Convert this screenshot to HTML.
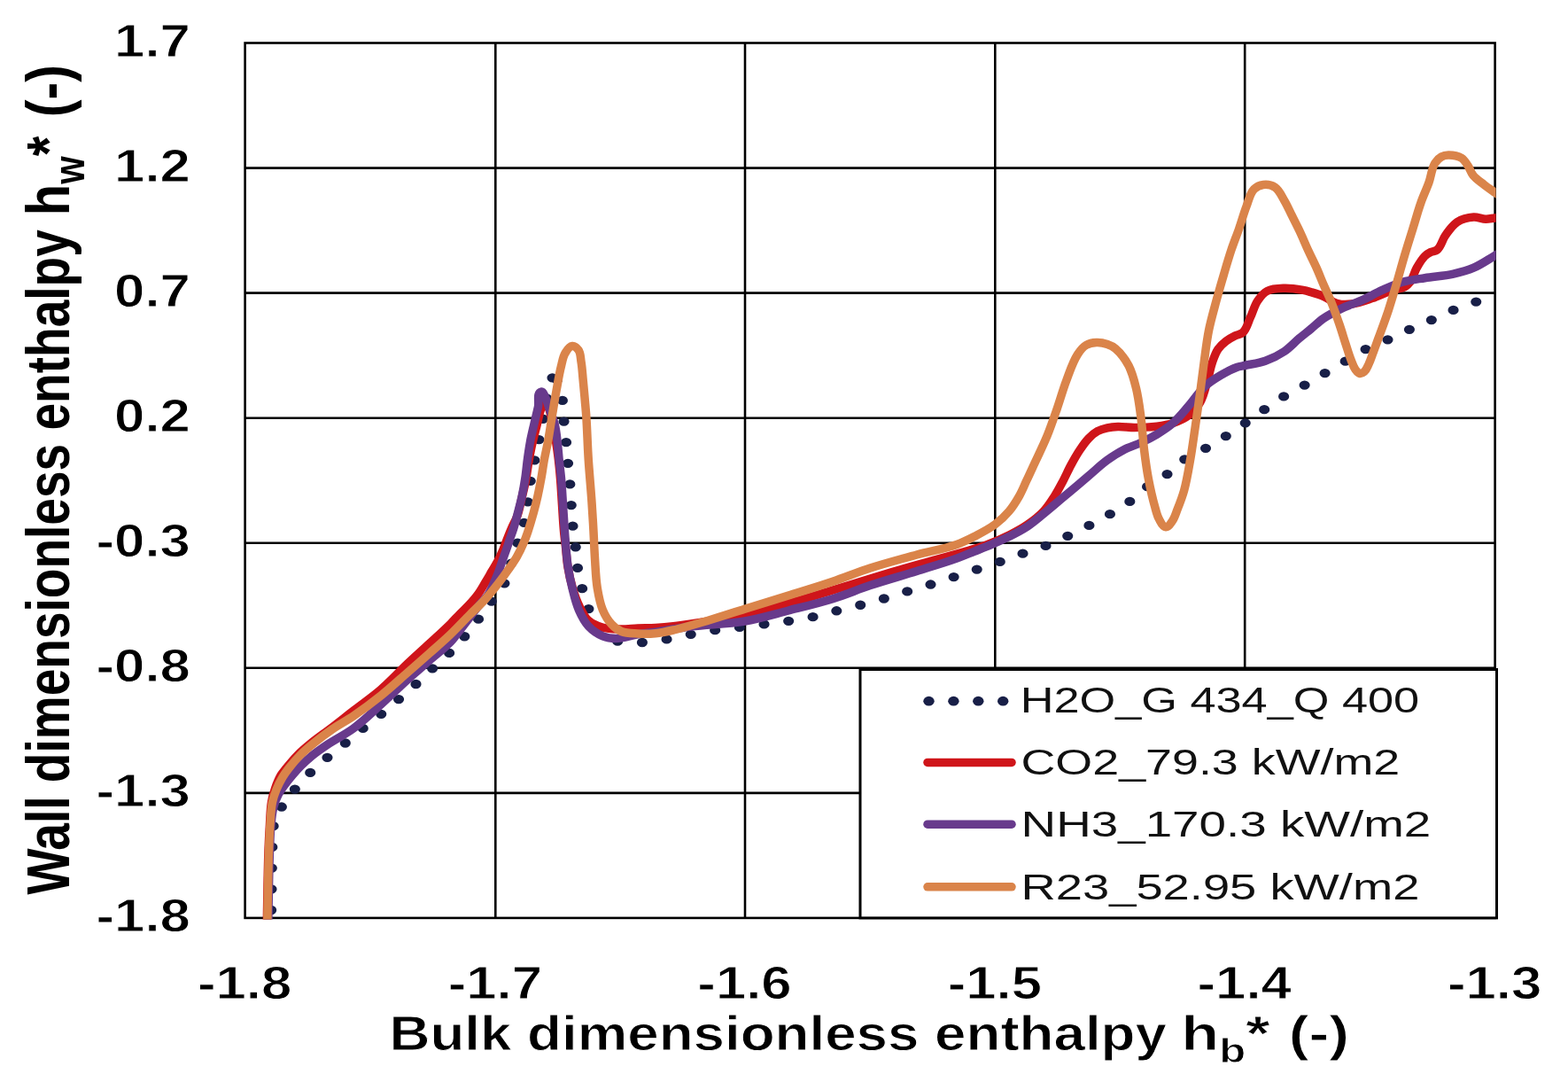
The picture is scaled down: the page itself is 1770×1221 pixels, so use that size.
<!DOCTYPE html><html><head><meta charset="utf-8"><style>html,body{margin:0;padding:0;background:#fff;}svg{display:block;}.t{font-family:"Liberation Sans","DejaVu Sans",sans-serif;font-weight:bold;fill:#000;stroke:#fff;stroke-width:0.9px;}.l{font-family:"Liberation Sans","DejaVu Sans",sans-serif;fill:#111;}</style></head><body>
<svg width="1770" height="1221" viewBox="0 0 1770 1221">
<rect width="1770" height="1221" fill="#fff"/>
<path d="M559.3,48.5V1035.9M841.0,48.5V1035.9M1123.3,48.5V1035.9M1405.2,48.5V1035.9M276.6,189.6H1687.6M276.6,330.6H1687.6M276.6,471.7H1687.6M276.6,612.7H1687.6M276.6,753.8H1687.6M276.6,894.9H1687.6" stroke="#000" stroke-width="2.60" fill="none"/>
<rect x="276.6" y="48.5" width="1411.0" height="987.4" fill="none" stroke="#000" stroke-width="2.60"/>
<defs><clipPath id="pc"><rect x="274.6" y="46.5" width="1414.0" height="991.1"/></clipPath></defs>
<g fill="none" stroke-linecap="round" stroke-linejoin="round" clip-path="url(#pc)">
<g transform="scale(1.1800,1)" stroke="#181f47" stroke-width="10.3" stroke-dasharray="0 23.7"><path d="M259.32,1036.00 C259.46,1025.00 259.60,1014.00 259.75,1003.00 C259.89,992.00 259.95,981.00 260.17,970.00 C260.34,961.67 260.38,953.32 260.85,945.00 C261.22,938.32 261.22,931.56 262.54,925.00 C263.30,921.22 264.13,917.31 266.10,914.00 C267.30,911.99 269.51,910.76 270.93,908.90 C275.48,902.95 278.33,895.84 282.63,889.70 C287.06,883.37 292.03,877.42 297.12,871.60 C302.27,865.71 307.77,860.13 313.31,854.60 C319.17,848.75 325.39,843.26 331.36,837.50 C336.83,832.22 342.12,826.75 347.63,821.50 C353.28,816.11 359.20,811.01 364.83,805.60 C370.68,799.98 376.35,794.18 382.03,788.40 C387.62,782.72 393.23,777.05 398.64,771.20 C404.10,765.31 409.26,759.15 414.66,753.20 C419.91,747.41 425.55,741.97 430.59,736.00 C435.73,729.93 440.51,723.55 445.17,717.10 C449.78,710.71 454.10,704.11 458.39,697.50 C462.43,691.27 466.30,684.94 470.17,678.60 C474.64,671.27 480.02,664.40 483.39,656.50 C486.58,649.03 487.74,640.85 489.83,633.00 C491.98,624.95 493.98,616.86 496.10,608.80 C498.00,601.59 500.37,594.50 501.86,587.20 C503.46,579.41 504.26,571.49 505.25,563.60 C506.27,555.52 506.74,547.37 507.88,539.30 C509.00,531.39 510.63,523.56 512.03,515.70 C513.51,507.46 515.12,499.25 516.53,491.00 C517.89,483.01 519.11,475.01 520.34,467.00 C521.36,460.34 522.16,453.64 523.31,447.00 C524.17,441.98 524.46,436.76 526.27,432.00 C527.16,429.65 527.58,425.36 530.08,425.50" stroke-dashoffset="-9.0"/><path d="M530.08,425.50 C533.55,425.69 533.24,431.71 534.32,435.00 C536.18,440.67 537.33,446.58 538.14,452.50 C539.15,459.94 538.86,467.51 539.41,475.00 C539.98,482.84 540.89,490.66 541.53,498.50 C542.16,506.36 542.62,514.24 543.22,522.10 C543.83,530.04 544.64,537.96 545.17,545.90 C545.72,554.09 545.97,562.30 546.44,570.50 C546.88,578.17 547.20,585.85 547.88,593.50 C548.58,601.35 549.82,609.15 550.59,617.00 C551.40,625.19 551.53,633.45 552.63,641.60 C553.63,649.03 555.11,656.39 556.78,663.70 C558.57,671.54 560.22,679.47 563.05,687.00 C565.67,693.95 568.81,700.79 572.88,707.00 C576.23,712.12 579.57,717.73 584.75,721.00 C589.69,724.12 595.88,724.91 601.69,725.50 C607.33,726.07 613.02,725.11 618.64,724.50 C625.16,723.79 631.63,722.69 638.05,721.40 C645.80,719.84 653.38,717.51 661.10,715.80 C668.70,714.11 676.31,712.50 683.98,711.20 C691.71,709.89 699.53,709.12 707.29,708.00 C715.06,706.88 722.83,705.68 730.59,704.50 C738.39,703.31 746.21,702.26 753.98,700.90 C761.78,699.53 769.61,698.23 777.29,696.30 C784.91,694.39 792.30,691.63 799.83,689.40 C807.38,687.16 815.01,685.18 822.54,682.90 C830.18,680.59 837.79,678.17 845.34,675.60 C852.59,673.13 859.74,670.38 866.95,667.80 C874.37,665.15 881.84,662.63 889.24,659.90 C896.67,657.16 904.04,654.23 911.44,651.40 C918.84,648.57 926.25,645.76 933.64,642.90 C941.14,640.00 948.66,637.14 956.10,634.10 C963.29,631.17 970.36,627.94 977.54,625.00 C984.71,622.07 992.11,619.72 999.15,616.50 C1006.34,613.21 1013.24,609.31 1020.17,605.50 C1027.14,601.67 1034.05,597.73 1040.85,593.60 C1047.56,589.52 1054.21,585.35 1060.68,580.90 C1067.21,576.41 1073.86,572.02 1079.83,566.80 C1085.06,562.22 1089.10,556.39 1094.32,551.80 C1100.94,545.98 1108.88,541.81 1115.51,536.00 C1121.17,531.03 1125.42,524.55 1131.27,519.80 C1137.81,514.50 1145.63,510.98 1152.63,506.30 C1159.10,501.97 1165.45,497.46 1171.69,492.80 C1177.92,488.16 1183.97,483.29 1190.00,478.40 C1196.23,473.35 1202.26,468.06 1208.47,463.00 C1214.83,457.83 1221.06,452.48 1227.71,447.70 C1234.10,443.11 1241.00,439.28 1247.54,434.90 C1254.06,430.54 1260.41,425.94 1266.86,421.50 C1273.01,417.28 1279.22,413.16 1285.34,408.90 C1291.85,404.36 1297.96,399.22 1304.75,395.10 C1311.91,390.74 1319.73,387.56 1327.12,383.60 C1333.99,379.92 1340.66,375.87 1347.54,372.20 C1354.28,368.60 1361.19,365.33 1367.97,361.80 C1375.12,358.07 1382.05,353.90 1389.32,350.40 C1396.31,347.04 1403.56,344.27 1410.68,341.20 C1412.77,340.30 1414.86,339.40 1416.95,338.50" stroke-dashoffset="-4.6"/></g>
<path d="M301.30,1042.00 C301.53,1028.00 301.71,1014.00 302.00,1000.00 C302.28,986.67 302.50,973.33 303.00,960.00 C303.38,949.99 303.85,939.99 304.50,930.00 C305.04,921.66 305.08,913.24 306.50,905.00 C307.38,899.90 308.80,894.89 310.50,890.00 C312.29,884.85 314.26,879.71 317.00,875.00 C318.67,872.12 320.91,869.59 323.00,867.00 C327.15,861.85 331.33,856.69 336.00,852.00 C341.00,846.98 346.49,842.46 352.00,838.00 C358.47,832.75 365.38,828.06 372.00,823.00 C381.06,816.08 389.99,808.99 399.00,802.00 C409.32,793.99 420.12,786.55 430.00,778.00 C440.51,768.90 449.88,758.54 460.00,749.00 C468.24,741.23 476.70,733.71 485.00,726.00 C493.04,718.54 501.22,711.22 509.00,703.50 C512.43,700.10 515.62,696.46 519.00,693.00 C522.62,689.29 526.50,685.83 530.00,682.00 C533.51,678.16 536.96,674.23 540.00,670.00 C542.97,665.87 545.38,661.36 548.00,657.00 C550.38,653.03 552.67,649.00 555.00,645.00 C557.33,641.00 559.86,637.11 562.00,633.00 C564.20,628.77 566.14,624.40 568.00,620.00 C569.81,615.72 571.27,611.31 573.00,607.00 C574.61,602.98 576.26,598.97 578.00,595.00 C579.92,590.63 582.41,586.50 584.00,582.00 C586.28,575.52 587.41,568.69 589.00,562.00 C590.58,555.35 592.21,548.71 593.50,542.00 C594.90,534.71 595.69,527.31 597.00,520.00 C598.20,513.31 599.51,506.63 601.00,500.00 C602.51,493.30 604.33,486.67 606.00,480.00 C607.50,474.00 608.60,467.88 610.50,462.00 C611.60,458.58 610.93,452.37 614.50,452.00 C616.89,451.75 617.50,455.82 618.50,458.00 C620.82,463.03 621.74,468.61 623.00,474.00 C624.85,481.93 626.19,489.97 627.50,498.00 C628.59,504.64 629.50,511.32 630.30,518.00 C631.18,525.32 631.89,532.66 632.50,540.00 C633.33,549.99 633.82,560.00 634.50,570.00 C635.16,579.67 635.63,589.35 636.50,599.00 C637.04,605.01 637.84,611.00 638.50,617.00 C639.34,624.67 639.72,632.40 641.00,640.00 C642.36,648.09 644.14,656.14 646.50,664.00 C648.55,670.82 650.85,677.62 654.00,684.00 C656.78,689.64 659.35,695.77 664.00,700.00 C668.41,704.01 674.27,706.34 680.00,708.00 C686.44,709.86 693.30,709.83 700.00,710.00 C706.67,710.17 713.33,709.27 720.00,709.00 C726.66,708.73 733.34,708.78 740.00,708.40 C746.68,708.02 753.35,707.46 760.00,706.70 C773.38,705.18 786.70,703.09 800.00,701.00 C813.60,698.86 827.25,696.92 840.70,694.00 C857.31,690.39 873.64,685.61 890.00,681.00 C906.75,676.28 923.35,671.05 940.00,666.00 C954.15,661.71 968.24,657.26 982.40,653.00 C999.87,647.74 1017.36,642.52 1034.90,637.50 C1052.32,632.52 1069.90,628.06 1087.30,623.00 C1096.07,620.45 1104.93,618.16 1113.50,615.00 C1122.54,611.67 1131.40,607.82 1140.00,603.50 C1146.87,600.05 1153.69,596.39 1160.00,592.00 C1166.41,587.54 1172.65,582.69 1178.00,577.00 C1182.52,572.18 1186.12,566.55 1189.70,561.00 C1193.30,555.43 1196.38,549.55 1199.50,543.70 C1202.93,537.25 1205.80,530.51 1209.30,524.10 C1212.40,518.42 1215.58,512.76 1219.20,507.40 C1222.21,502.95 1225.25,498.45 1229.00,494.60 C1231.93,491.60 1235.13,488.74 1238.80,486.70 C1242.26,484.78 1246.14,483.67 1250.00,482.80 C1253.93,481.92 1257.98,481.61 1262.00,481.50 C1268.14,481.34 1274.26,482.50 1280.40,482.50 C1288.95,482.50 1297.52,482.17 1306.00,481.10 C1312.07,480.33 1318.21,479.48 1324.00,477.50 C1330.38,475.32 1336.76,472.61 1342.10,468.50 C1347.15,464.61 1351.53,459.64 1354.70,454.10 C1359.43,445.84 1360.97,436.12 1363.70,427.00 C1365.58,420.72 1366.62,414.18 1368.80,408.00 C1370.50,403.19 1372.11,398.21 1375.00,394.00 C1377.40,390.50 1380.66,387.61 1384.00,385.00 C1387.06,382.61 1390.53,380.75 1394.00,379.00 C1396.87,377.55 1400.55,377.49 1402.90,375.30 C1407.53,370.98 1408.70,364.03 1411.40,358.30 C1414.38,351.97 1415.94,344.87 1419.90,339.10 C1422.75,334.94 1426.12,330.71 1430.60,328.40 C1436.34,325.44 1443.25,325.40 1449.70,325.20 C1456.83,324.97 1463.97,326.15 1471.00,327.40 C1474.05,327.94 1477.03,328.83 1480.00,329.70 C1484.65,331.07 1489.33,332.42 1493.80,334.30 C1499.33,336.62 1504.00,341.00 1509.80,342.50 C1515.00,343.84 1520.57,343.65 1525.90,343.00 C1533.77,342.05 1541.29,339.15 1548.80,336.60 C1556.59,333.96 1563.90,330.02 1571.70,327.40 C1576.38,325.83 1581.67,325.89 1586.00,323.50 C1588.38,322.19 1590.40,320.19 1592.00,318.00 C1595.42,313.31 1596.43,307.24 1599.30,302.20 C1601.95,297.56 1604.61,292.77 1608.40,289.00 C1610.29,287.12 1612.62,285.70 1615.00,284.50 C1617.27,283.36 1620.24,283.62 1622.20,282.00 C1626.94,278.08 1627.82,271.00 1631.40,266.00 C1635.43,260.37 1639.27,254.12 1645.10,250.40 C1650.49,246.96 1657.12,245.40 1663.50,245.00 C1668.12,244.71 1672.58,247.10 1677.20,247.20 C1680.69,247.28 1684.13,246.33 1687.60,246.00 C1689.40,245.83 1691.20,245.73 1693.00,245.60" stroke="#cf151a" stroke-width="9.5"/>
<path d="M302.80,1042.00 C303.03,1028.00 303.21,1014.00 303.50,1000.00 C303.78,986.67 304.00,973.33 304.50,960.00 C304.88,949.99 305.01,939.96 306.00,930.00 C306.67,923.29 307.28,916.52 309.00,910.00 C310.18,905.51 311.87,901.12 314.00,897.00 C316.21,892.73 319.16,888.88 322.00,885.00 C324.52,881.55 327.23,878.25 330.00,875.00 C333.22,871.23 336.50,867.51 340.00,864.00 C343.83,860.16 347.79,856.43 352.00,853.00 C357.74,848.32 363.85,844.12 370.00,840.00 C379.45,833.67 389.85,828.76 399.00,822.00 C410.02,813.86 419.82,804.18 430.00,795.00 C440.16,785.84 449.86,776.19 460.00,767.00 C468.23,759.55 476.66,752.32 485.00,745.00 C492.99,737.99 501.68,731.71 509.00,724.00 C513.08,719.69 516.36,714.69 520.00,710.00 C523.36,705.68 526.67,701.33 530.00,697.00 C533.33,692.67 536.57,688.25 540.00,684.00 C543.56,679.58 547.88,675.74 551.00,671.00 C553.46,667.27 555.13,663.06 557.00,659.00 C558.97,654.73 560.81,650.39 562.50,646.00 C564.14,641.72 565.48,637.33 567.00,633.00 C568.64,628.33 570.38,623.68 572.00,619.00 C573.38,615.01 574.64,610.99 576.00,607.00 C577.14,603.66 578.44,600.37 579.50,597.00 C581.33,591.16 582.84,585.22 584.40,579.30 C586.12,572.76 587.89,566.22 589.30,559.60 C590.69,553.11 591.81,546.56 592.80,540.00 C593.90,532.69 594.49,525.32 595.50,518.00 C596.40,511.49 597.29,504.96 598.50,498.50 C599.72,491.96 601.32,485.49 602.80,479.00 C604.32,472.32 606.03,465.69 607.50,459.00 C608.75,453.35 605.37,443.35 611.00,442.00 C613.08,441.50 613.96,445.14 615.00,447.00 C617.41,451.33 618.35,456.33 620.00,461.00 C622.09,466.93 624.69,472.70 626.20,478.80 C627.80,485.25 628.38,491.91 629.20,498.50 C630.01,505.05 630.42,511.64 631.10,518.20 C631.85,525.47 632.85,532.72 633.50,540.00 C634.37,549.82 634.85,559.67 635.50,569.50 C636.15,579.30 636.71,589.10 637.40,598.90 C637.77,604.14 638.13,609.37 638.60,614.60 C639.33,622.78 639.88,630.98 641.10,639.10 C642.34,647.37 643.98,655.59 646.00,663.70 C648.07,672.01 649.94,680.47 653.40,688.30 C656.28,694.84 659.52,701.48 664.40,706.70 C668.83,711.44 674.41,715.31 680.40,717.80 C685.00,719.71 690.12,720.51 695.10,720.50 C703.55,720.48 711.66,717.13 720.00,715.80 C726.64,714.74 733.35,714.16 740.00,713.20 C746.68,712.23 753.33,711.03 760.00,710.00 C766.66,708.97 773.31,707.83 780.00,707.00 C800.18,704.49 820.66,704.41 840.70,701.00 C857.37,698.16 873.61,693.17 890.00,689.00 C906.71,684.74 923.53,680.81 940.00,675.70 C954.33,671.25 968.16,665.32 982.40,660.60 C999.78,654.84 1017.43,649.97 1034.90,644.50 C1049.96,639.79 1065.14,635.41 1080.00,630.10 C1086.65,627.72 1093.14,624.92 1099.70,622.30 C1106.24,619.69 1112.82,617.17 1119.30,614.40 C1125.93,611.57 1132.55,608.72 1139.00,605.50 C1145.70,602.16 1152.44,598.81 1158.70,594.70 C1165.61,590.17 1171.86,584.68 1178.30,579.50 C1182.16,576.40 1185.90,573.17 1189.70,570.00 C1196.24,564.54 1202.78,559.09 1209.30,553.60 C1215.88,548.05 1222.43,542.46 1229.00,536.90 C1235.99,530.99 1242.59,524.57 1250.00,519.20 C1256.25,514.67 1262.82,510.51 1269.70,507.00 C1275.57,504.00 1282.02,502.28 1288.00,499.50 C1294.14,496.65 1300.22,493.61 1306.00,490.10 C1312.26,486.30 1318.50,482.33 1324.00,477.50 C1330.72,471.60 1336.23,464.44 1342.10,457.70 C1348.27,450.61 1353.19,442.37 1360.10,436.00 C1365.49,431.04 1371.81,427.15 1378.10,423.40 C1383.86,419.97 1389.77,416.62 1396.10,414.40 C1398.96,413.40 1402.04,413.15 1405.00,412.50 C1412.81,410.80 1420.87,409.98 1428.40,407.30 C1435.89,404.63 1443.10,401.03 1449.70,396.60 C1455.98,392.39 1461.01,386.56 1466.80,381.70 C1471.14,378.06 1475.62,374.60 1480.00,371.00 C1484.63,367.20 1488.86,362.88 1493.80,359.50 C1500.28,355.07 1507.31,351.47 1514.40,348.10 C1521.83,344.57 1529.80,342.28 1537.30,338.90 C1545.12,335.38 1552.48,330.90 1560.30,327.40 C1567.80,324.04 1575.30,320.57 1583.20,318.30 C1591.41,315.95 1599.97,315.07 1608.40,313.70 C1619.10,311.96 1630.01,311.44 1640.60,309.10 C1648.38,307.38 1656.18,305.35 1663.50,302.20 C1672.00,298.54 1679.60,293.06 1687.60,288.40 C1689.41,287.35 1691.20,286.27 1693.00,285.20" stroke="#683a8c" stroke-width="9.5"/>
<path d="M301.80,1042.00 C302.03,1028.00 302.21,1014.00 302.50,1000.00 C302.78,986.67 303.00,973.33 303.50,960.00 C303.88,949.99 304.25,939.98 305.00,930.00 C305.63,921.65 305.79,913.20 307.50,905.00 C308.50,900.20 310.15,895.54 312.00,891.00 C313.97,886.17 316.33,881.48 319.00,877.00 C321.08,873.50 323.50,870.21 326.00,867.00 C330.07,861.78 334.33,856.69 339.00,852.00 C344.00,846.98 349.49,842.46 355.00,838.00 C361.47,832.75 368.13,827.71 375.00,823.00 C382.78,817.66 391.21,813.31 399.00,808.00 C409.63,800.75 419.96,793.05 430.00,785.00 C440.32,776.72 450.03,767.70 460.00,759.00 C468.36,751.70 476.71,744.38 485.00,737.00 C493.04,729.84 501.23,722.84 509.00,715.40 C516.22,708.49 522.97,701.10 530.00,694.00 C535.97,687.97 542.31,682.29 548.00,676.00 C553.23,670.22 558.03,664.07 562.80,657.90 C566.53,653.07 570.11,648.11 573.60,643.10 C576.97,638.27 580.47,633.51 583.40,628.40 C586.39,623.19 588.94,617.73 591.30,612.20 C593.15,607.85 594.70,603.38 596.20,598.90 C598.36,592.43 600.29,585.88 602.10,579.30 C603.89,572.77 605.52,566.20 607.00,559.60 C608.45,553.10 609.71,546.55 610.90,540.00 C612.23,532.69 613.15,525.31 614.50,518.00 C615.70,511.47 617.30,505.03 618.50,498.50 C620.30,488.70 621.67,478.83 623.30,469.00 C624.90,459.33 626.44,449.64 628.20,440.00 C629.85,430.98 631.25,421.89 633.50,413.00 C634.74,408.09 635.38,402.83 638.00,398.50 C639.95,395.27 642.25,390.90 646.00,390.50 C648.76,390.20 651.40,392.73 653.00,395.00 C655.56,398.64 655.27,403.61 656.00,408.00 C657.16,414.94 657.51,422.00 658.20,429.00 C658.95,436.66 659.63,444.33 660.30,452.00 C660.82,458.00 661.40,463.99 661.80,470.00 C662.86,485.85 663.19,501.75 664.20,517.60 C665.25,534.02 666.87,550.39 668.00,566.80 C668.76,577.86 669.39,588.93 670.00,600.00 C670.55,610.00 670.84,620.01 671.50,630.00 C672.25,641.25 672.47,652.58 674.30,663.70 C675.67,672.04 677.13,680.51 680.40,688.30 C682.81,694.04 686.00,699.60 690.20,704.20 C693.32,707.61 697.02,710.75 701.30,712.50 C707.03,714.84 713.52,714.63 719.70,715.00 C726.46,715.41 733.27,715.37 740.00,714.70 C746.75,714.03 753.39,712.52 760.00,711.00 C773.48,707.91 786.74,703.91 800.00,700.00 C813.64,695.98 827.12,691.43 840.70,687.20 C857.12,682.09 873.58,677.12 890.00,672.00 C906.69,666.79 923.44,661.78 940.00,656.20 C954.23,651.40 968.11,645.60 982.40,641.00 C999.73,635.43 1017.34,630.77 1034.90,626.00 C1049.88,621.93 1065.36,619.55 1080.00,614.40 C1086.80,612.01 1093.29,608.80 1099.70,605.50 C1107.79,601.34 1116.01,597.24 1123.30,591.80 C1129.06,587.50 1134.36,582.49 1139.00,577.00 C1143.58,571.58 1147.31,565.47 1150.80,559.30 C1153.83,553.94 1156.09,548.18 1158.70,542.60 C1160.99,537.71 1163.22,532.79 1165.50,527.90 C1167.98,522.59 1170.55,517.32 1173.00,512.00 C1176.20,505.03 1179.52,498.11 1182.40,491.00 C1186.32,481.33 1189.68,471.45 1193.10,461.60 C1196.79,450.99 1199.71,440.11 1203.70,429.60 C1207.54,419.49 1210.62,408.87 1216.50,399.80 C1219.04,395.88 1221.99,391.89 1226.00,389.50 C1229.49,387.42 1233.75,386.68 1237.80,386.50 C1241.92,386.32 1246.10,387.17 1250.00,388.50 C1253.26,389.61 1256.47,391.17 1259.10,393.40 C1265.28,398.63 1270.19,405.45 1274.00,412.60 C1278.23,420.53 1280.34,429.47 1282.50,438.20 C1285.09,448.66 1286.38,459.41 1287.80,470.10 C1289.48,482.72 1290.03,495.47 1291.60,508.10 C1292.94,518.90 1294.37,529.71 1296.40,540.40 C1298.44,551.12 1300.79,561.81 1303.80,572.30 C1305.13,576.94 1306.11,581.81 1308.50,586.00 C1310.41,589.35 1312.15,594.55 1316.00,594.80 C1319.13,595.01 1321.16,591.04 1323.00,588.50 C1325.89,584.52 1327.18,579.58 1329.00,575.00 C1331.85,567.84 1334.66,560.63 1336.70,553.20 C1339.95,541.37 1341.79,529.19 1343.90,517.10 C1345.99,505.15 1347.54,493.11 1349.30,481.10 C1351.01,469.41 1352.70,457.71 1354.30,446.00 C1355.94,434.01 1357.33,421.99 1359.00,410.00 C1360.72,397.65 1362.05,385.23 1364.50,373.00 C1366.79,361.57 1370.07,350.36 1373.10,339.10 C1375.79,329.13 1378.67,319.20 1381.60,309.30 C1384.34,300.04 1387.03,290.76 1390.10,281.60 C1392.73,273.73 1395.88,266.04 1398.60,258.20 C1401.55,249.71 1403.84,240.98 1407.10,232.60 C1409.64,226.06 1410.80,218.42 1415.70,213.40 C1418.36,210.68 1422.22,208.94 1426.00,208.50 C1430.43,207.98 1435.37,208.85 1439.10,211.30 C1444.19,214.65 1446.55,220.98 1449.70,226.20 C1452.98,231.64 1455.45,237.52 1458.30,243.20 C1461.15,248.89 1464.08,254.54 1466.80,260.30 C1470.49,268.13 1473.77,276.15 1477.40,284.00 C1480.19,290.04 1483.28,295.93 1486.00,302.00 C1488.75,308.13 1491.14,314.42 1493.80,320.60 C1496.77,327.50 1500.09,334.24 1502.90,341.20 C1506.24,349.49 1509.21,357.94 1512.10,366.40 C1514.55,373.55 1516.65,380.81 1519.00,388.00 C1520.96,394.01 1522.69,400.11 1525.00,406.00 C1526.47,409.75 1527.62,413.75 1530.00,417.00 C1531.33,418.81 1532.79,421.11 1535.00,421.50 C1536.77,421.81 1538.64,420.67 1540.00,419.50 C1542.49,417.36 1543.57,413.96 1545.00,411.00 C1547.02,406.82 1548.37,402.35 1550.00,398.00 C1551.94,392.85 1553.82,387.67 1555.70,382.50 C1559.58,371.82 1563.62,361.19 1567.20,350.40 C1570.47,340.54 1573.36,330.56 1576.30,320.60 C1579.46,309.89 1582.32,299.10 1585.50,288.40 C1588.46,278.43 1591.63,268.53 1594.70,258.60 C1597.77,248.67 1600.44,238.60 1603.90,228.80 C1606.63,221.05 1610.25,213.64 1613.00,205.90 C1615.56,198.69 1615.91,190.53 1619.90,184.00 C1621.63,181.16 1624.10,178.63 1627.00,177.00 C1629.40,175.65 1632.25,175.03 1635.00,175.00 C1640.02,174.94 1645.41,175.69 1649.70,178.30 C1652.93,180.27 1654.87,183.87 1657.00,187.00 C1659.35,190.45 1660.36,194.76 1663.00,198.00 C1666.31,202.07 1670.87,204.96 1675.00,208.20 C1679.08,211.40 1683.36,214.32 1687.60,217.30 C1689.38,218.56 1691.20,219.77 1693.00,221.00" stroke="#da844a" stroke-width="9.5"/>
</g>
<rect x="971.0" y="755.5" width="718.5" height="280.4" fill="#fff" stroke="#000" stroke-width="3.0"/>
<ellipse cx="1048.5" cy="791.2" rx="6.2" ry="5.4" fill="#181f47"/>
<ellipse cx="1076.4" cy="791.2" rx="6.2" ry="5.4" fill="#181f47"/>
<ellipse cx="1104.3" cy="791.2" rx="6.2" ry="5.4" fill="#181f47"/>
<ellipse cx="1132.2" cy="791.2" rx="6.2" ry="5.4" fill="#181f47"/>
<path d="M1047,860.4H1142" stroke="#cf151a" stroke-width="9.5" stroke-linecap="round"/>
<path d="M1047,930.2H1142" stroke="#683a8c" stroke-width="9.5" stroke-linecap="round"/>
<path d="M1047,1000.8H1142" stroke="#da844a" stroke-width="9.5" stroke-linecap="round"/>
<text class="l" x="0" y="0" font-size="41.00" transform="translate(1151.70,804.20) scale(1.2754,1)">H2O_G 434_Q 400</text>
<text class="l" x="0" y="0" font-size="41.00" transform="translate(1152.50,873.70) scale(1.3130,1)">CO2_79.3 kW/m2</text>
<text class="l" x="0" y="0" font-size="41.00" transform="translate(1152.60,943.80) scale(1.3364,1)">NH3_170.3 kW/m2</text>
<text class="l" x="0" y="0" font-size="41.00" transform="translate(1152.60,1014.50) scale(1.3249,1)">R23_52.95 kW/m2</text>
<text class="t" text-anchor="end" font-size="51.00" transform="translate(214.9,63.5) scale(1.2100,1)">1.7</text>
<text class="t" text-anchor="end" font-size="51.00" transform="translate(214.9,204.6) scale(1.2100,1)">1.2</text>
<text class="t" text-anchor="end" font-size="51.00" transform="translate(214.9,345.6) scale(1.2100,1)">0.7</text>
<text class="t" text-anchor="end" font-size="51.00" transform="translate(214.9,486.7) scale(1.2100,1)">0.2</text>
<text class="t" text-anchor="end" font-size="51.00" transform="translate(214.9,627.7) scale(1.2100,1)">-0.3</text>
<text class="t" text-anchor="end" font-size="51.00" transform="translate(214.9,768.8) scale(1.2100,1)">-0.8</text>
<text class="t" text-anchor="end" font-size="51.00" transform="translate(214.9,909.9) scale(1.2100,1)">-1.3</text>
<text class="t" text-anchor="end" font-size="51.00" transform="translate(214.9,1050.9) scale(1.2100,1)">-1.8</text>
<text class="t" text-anchor="middle" font-size="51.00" transform="translate(276.1,1126.8) scale(1.2100,1)">-1.8</text>
<text class="t" text-anchor="middle" font-size="51.00" transform="translate(558.8,1126.8) scale(1.2100,1)">-1.7</text>
<text class="t" text-anchor="middle" font-size="51.00" transform="translate(840.5,1126.8) scale(1.2100,1)">-1.6</text>
<text class="t" text-anchor="middle" font-size="51.00" transform="translate(1122.8,1126.8) scale(1.2100,1)">-1.5</text>
<text class="t" text-anchor="middle" font-size="51.00" transform="translate(1404.7,1126.8) scale(1.2100,1)">-1.4</text>
<text class="t" text-anchor="middle" font-size="51.00" transform="translate(1687.1,1126.8) scale(1.2100,1)">-1.3</text>
<text class="t" font-size="55.90" transform="translate(439.44,1184.50) scale(1.1393,1)">Bulk dimensionless enthalpy</text>
<text class="t" font-size="55.90" transform="translate(1333.28,1184.50) scale(1.2560,1)">h<tspan font-size="39.13" dy="14">b</tspan><tspan dy="-14">*</tspan></text>
<text class="t" font-size="55.90" transform="translate(1454.73,1184.50) scale(1.2240,1)">(-)</text>
<text class="t" style="stroke-width:0px" font-size="55.90" transform="translate(77.90,1009.59) rotate(-90) scale(0.9849,1.2166)">Wall dimensionless enthalpy</text>
<text class="t" style="stroke-width:0px" font-size="55.90" transform="translate(77.90,243.15) rotate(-90) scale(1.0366,1.2166)">h<tspan font-size="39.13" dy="14">w</tspan><tspan dy="-14">*</tspan></text>
<text class="t" style="stroke-width:0px" font-size="55.90" transform="translate(77.90,132.18) rotate(-90) scale(1.0600,1.2166)">(-)</text>
</svg></body></html>
